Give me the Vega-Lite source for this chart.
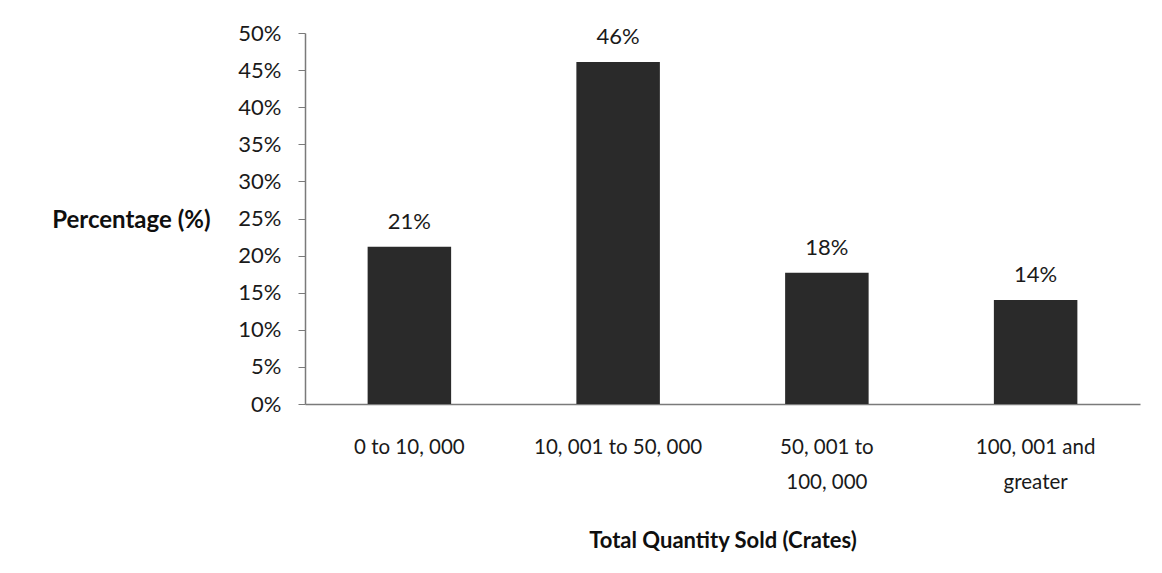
{
  "$schema": "https://vega.github.io/schema/vega-lite/v6.json",
  "width": 835,
  "height": 371,
  "autosize": {"type": "none"},
  "padding": {"left": 305, "top": 33, "right": 22, "bottom": 169},
  "background": "white",
  "config": {
    "view": {"stroke": null},
    "font": "Lato",
    "axis": {"domainColor": "#7a7a7a", "tickColor": "#7a7a7a", "labelColor": "#1a1a1a", "titleColor": "#0f0f0f", "labelFont": "Lato", "titleFont": "Lato"}
  },
  "data": {
    "values": [
      {"category": "0 to 10, 000", "value": 0.212},
      {"category": "10, 001 to 50, 000", "value": 0.461},
      {"category": "50, 001 to|100, 000", "value": 0.177},
      {"category": "100, 001 and|greater", "value": 0.140}
    ]
  },
  "encoding": {
    "x": {
      "field": "category",
      "type": "nominal",
      "sort": null,
      "scale": {"paddingInner": 0.6, "paddingOuter": 0.3},
      "axis": {
        "title": "Total Quantity Sold (Crates)",
        "titleFontSize": 22,
        "titleFontWeight": "bold",
        "titleY": 136,
        "titleBaseline": "middle",
        "labelAngle": 0,
        "labelFontSize": 20.5,
        "labelPadding": 43,
        "labelLineHeight": 35,
        "labelBaseline": "middle",
        "labelExpr": "split(datum.label, '|')",
        "ticks": false,
        "domainWidth": 1.5
      }
    },
    "y": {
      "field": "value",
      "type": "quantitative",
      "scale": {"domain": [0, 0.5], "nice": false},
      "axis": {
        "title": "Percentage (%)",
        "titleAngle": 0,
        "titleAlign": "right",
        "titleBaseline": "middle",
        "titleX": -95,
        "titleY": 187,
        "titleFontSize": 24,
        "titleFontWeight": "bold",
        "format": ".0%",
        "values": [0, 0.05, 0.1, 0.15, 0.2, 0.25, 0.3, 0.35, 0.4, 0.45, 0.5],
        "labelFontSize": 22,
        "labelPadding": 17,
        "tickSize": 7,
        "grid": false,
        "domainWidth": 1.5
      }
    }
  },
  "layer": [
    {"mark": {"type": "bar", "color": "#2a2a2a"}},
    {
      "mark": {"type": "text", "dy": -25, "baseline": "middle", "fontSize": 22, "color": "#1a1a1a", "font": "Lato"},
      "encoding": {"text": {"field": "value", "type": "quantitative", "format": ".0%"}}
    }
  ]
}
